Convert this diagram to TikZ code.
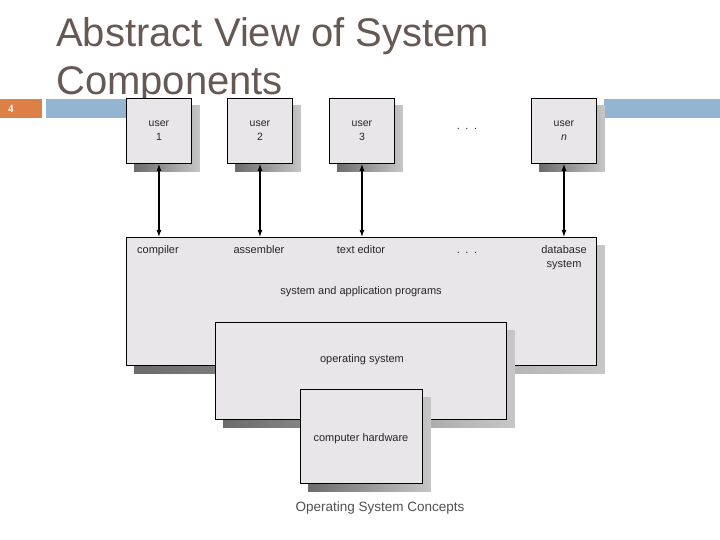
\documentclass[tikz,border=0pt]{standalone}
\usepackage{fontspec}
\setmainfont{Liberation Sans}
\newfontfamily\numfont{Liberation Serif}
\usetikzlibrary{arrows.meta}
\definecolor{titlec}{RGB}{102,88,82}
\definecolor{orangec}{RGB}{221,128,71}
\definecolor{bluec}{RGB}{148,181,209}
\definecolor{boxfill}{RGB}{232,230,233}
\definecolor{footc}{RGB}{80,80,80}
\tikzset{
  box/.style={draw=black, line width=0.9pt, fill=boxfill, rectangle, inner sep=0pt, anchor=north west,
    align=center, font=\fontsize{10.5}{14}\selectfont, text=black!85},
  shadowfill/.style={left color=black!58, right color=black!22},
  lbl/.style={font=\fontsize{11}{14}\selectfont, text=black!85, align=center, inner sep=0pt, anchor=base},
  link/.style={line width=1.1pt, {Latex[length=7pt,width=5pt]}-{Latex[length=7pt,width=5pt]}},
}
\begin{document}
\begin{tikzpicture}[x=1pt,y=-1pt]
\useasboundingbox (0,0) rectangle (720,540);
% header bars
\fill[orangec] (0,99) rectangle (42,118);
\fill[bluec] (46,99) rectangle (126,118);
\fill[bluec] (604,99) rectangle (720,118);
\node[text=white, font=\numfont\fontsize{11}{13}\selectfont\bfseries, inner sep=0pt] (num) at (11,109) {4};
% title
\node[anchor=base west, font=\fontsize{40}{48}\selectfont, text=titlec, inner sep=0pt] (t1) at (56,47) {Abstract View of System};
\node[anchor=base west, font=\fontsize{40}{48}\selectfont, text=titlec, inner sep=0pt] (t2) at (56,95) {Components};
% main box
\node[box, minimum width=470pt, minimum height=128pt] (main) at (126,237) {};
\fill[shadowfill] ([shift={(8,8)}]main.north west) rectangle ([shift={(8,8)}]main.south east);
\node[box, minimum width=470pt, minimum height=128pt] (main) at (126,237) {};
% OS box
\node[box, minimum width=291pt, minimum height=97pt] (os) at (215,322) {};
\fill[shadowfill] ([shift={(8,8)}]os.north west) rectangle ([shift={(8,8)}]os.south east);
\node[box, minimum width=291pt, minimum height=97pt] (os) at (215,322) {};
% hardware box
\node[box, minimum width=122pt, minimum height=94pt] (hw) at (300,389) {};
\fill[shadowfill] ([shift={(8,8)}]hw.north west) rectangle ([shift={(8,8)}]hw.south east);
\node[box, minimum width=122pt, minimum height=94pt] (hw) at (300,389) {};
% labels
\node[lbl] (comp) at (158,253) {compiler};
\node[lbl] (asm) at (259,253) {assembler};
\node[lbl] (ted) at (361,253) {text editor};
\node[lbl] (dots2) at (467,253) {.\hspace{5.5pt}.\hspace{5.5pt}.};
\node[lbl] (db1) at (564,253) {database};
\node[lbl] (db2) at (564,267) {system};
\node[lbl] (sap) at (361,294) {system and application programs};
\node[lbl] (osl) at (362,362) {operating system};
\node[lbl] (hwl) at (361,441) {computer hardware};
% user boxes
\foreach \nm/\x in {u1/126,u2/227,u3/329,un/531}{
  \node[box, minimum width=65pt, minimum height=65pt] (\nm) at (\x,98) {};
  \fill[shadowfill] ([shift={(8,8)}]\nm.north west) rectangle ([shift={(8,8)}]\nm.south east);
}
\node[box, minimum width=65pt, minimum height=65pt] (u1) at (126,98) {user\\1};
\node[box, minimum width=65pt, minimum height=65pt] (u2) at (227,98) {user\\2};
\node[box, minimum width=65pt, minimum height=65pt] (u3) at (329,98) {user\\3};
\node[box, minimum width=65pt, minimum height=65pt] (un) at (531,98) {user\\\textit{n}};
\node[lbl] (dots1) at (467,130) {.\hspace{5.5pt}.\hspace{5.5pt}.};
% connectors
\foreach \nm in {u1,u2,u3,un}{
  \draw[link] (\nm.south) -- (\nm.south |- main.north);
}
% footer
\node[font=\fontsize{13.5}{16}\selectfont, text=footc, inner sep=0pt, anchor=base] (foot) at (380,511) {Operating System Concepts};
\end{tikzpicture}
\end{document}
